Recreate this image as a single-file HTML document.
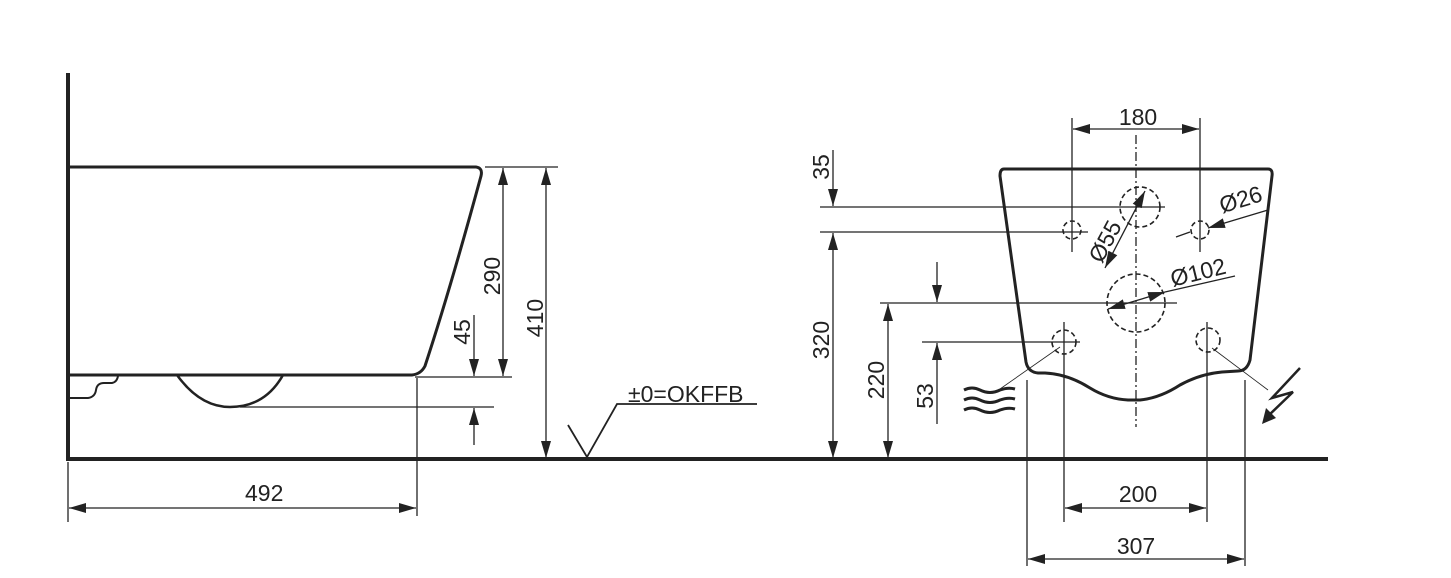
<!DOCTYPE html>
<html><head><meta charset="utf-8"><style>
html,body{margin:0;padding:0;background:#fff;width:1451px;height:578px;overflow:hidden}
svg{display:block}
text{font-family:"Liberation Sans",Arial,sans-serif;font-size:23px;fill:#222}
</style></head><body>
<svg width="1451" height="578" viewBox="0 0 1451 578" xmlns="http://www.w3.org/2000/svg">
<defs>
<marker id="a" viewBox="0 0 17 10" refX="17" refY="5" markerWidth="17" markerHeight="10" markerUnits="userSpaceOnUse" orient="auto-start-reverse"><path d="M0,0 L17,5 L0,10 z" fill="#222"/></marker>
</defs>
<g stroke="#222" fill="none">
<line x1="68" y1="73" x2="68" y2="461" stroke-width="4"/>
<line x1="66" y1="459" x2="1328" y2="459" stroke-width="4"/>
<path d="M68,167 L476,167 Q483,168 481,176 Q450,290 425,366 Q421,374 412,375 L68,375" stroke-width="3"/>
<path d="M177,375 Q200,407 230,407 Q265,407 283,375" stroke-width="2.5"/>
<path d="M70,398 L88,398 Q95,397 96,390 Q97,383 104,383 L112,383 Q117,382 118,376" stroke-width="2"/>
<g stroke-width="1.3">
<line x1="240" y1="407" x2="494" y2="407"/>
<line x1="415" y1="377" x2="512" y2="377"/>
<line x1="485" y1="167" x2="558" y2="167"/>
<line x1="417" y1="378" x2="417" y2="516"/>
<line x1="68" y1="462" x2="68" y2="522"/>
<line x1="503" y1="168" x2="503" y2="376" marker-start="url(#a)" marker-end="url(#a)"/>
<line x1="546" y1="168" x2="546" y2="458" marker-start="url(#a)" marker-end="url(#a)"/>
<line x1="474" y1="315" x2="474" y2="376" marker-end="url(#a)"/>
<line x1="474" y1="445" x2="474" y2="408" marker-end="url(#a)"/>
<line x1="69" y1="508" x2="416" y2="508" marker-start="url(#a)" marker-end="url(#a)"/>
<polyline points="568,425 587,457 617,404 757,404" stroke-width="1.8"/>
</g>
<path d="M1004,169 L1268,169 Q1273,169 1272,176 L1250,360 Q1247,371 1238,371 L1222,372 Q1200,374 1180,385 Q1160,398 1140,400 L1128,400 Q1108,399 1090,388 Q1068,374 1045,373 L1038,373 Q1028,372 1026,362 L1000,176 Q1000,169 1004,169 Z" stroke-width="3"/>
<line x1="1136" y1="135" x2="1136" y2="427" stroke-width="1.3" stroke-dasharray="9,3,2,3"/>
<g stroke-width="1.6" stroke-dasharray="5,3">
<circle cx="1140" cy="207" r="20"/>
<circle cx="1072" cy="230" r="9"/>
<circle cx="1200" cy="230" r="9"/>
<circle cx="1136" cy="303" r="29"/>
<circle cx="1064" cy="342" r="12"/>
<circle cx="1208" cy="340" r="12"/>
</g>
<g stroke-width="1.3">
<line x1="1072" y1="118" x2="1072" y2="252"/>
<line x1="1200" y1="118" x2="1200" y2="252"/>
<line x1="1073" y1="129" x2="1199" y2="129" marker-start="url(#a)" marker-end="url(#a)"/>
<line x1="820" y1="207" x2="1165" y2="207"/>
<line x1="820" y1="232" x2="1088" y2="232"/>
<line x1="880" y1="303" x2="1177" y2="303"/>
<line x1="922" y1="342" x2="1080" y2="342"/>
<line x1="833" y1="150" x2="833" y2="206" marker-end="url(#a)"/>
<line x1="833" y1="233" x2="833" y2="458" marker-start="url(#a)" marker-end="url(#a)"/>
<line x1="888" y1="304" x2="888" y2="458" marker-start="url(#a)" marker-end="url(#a)"/>
<line x1="937" y1="262" x2="937" y2="302" marker-end="url(#a)"/>
<line x1="937" y1="424" x2="937" y2="343" marker-end="url(#a)"/>
<line x1="1064" y1="322" x2="1064" y2="522"/>
<line x1="1207" y1="322" x2="1207" y2="522"/>
<line x1="1027" y1="380" x2="1027" y2="566"/>
<line x1="1245" y1="380" x2="1245" y2="566"/>
<line x1="1065" y1="508" x2="1206" y2="508" marker-start="url(#a)" marker-end="url(#a)"/>
<line x1="1028" y1="559" x2="1244" y2="559" marker-start="url(#a)" marker-end="url(#a)"/>
<line x1="1105" y1="268" x2="1145" y2="191" marker-start="url(#a)" marker-end="url(#a)"/>
<line x1="1176" y1="237" x2="1190" y2="232" />
<line x1="1208" y1="228" x2="1268" y2="210" marker-start="url(#a)"/>
<line x1="1108" y1="309" x2="1165" y2="292" marker-start="url(#a)" marker-end="url(#a)"/>
<line x1="1165" y1="292" x2="1235" y2="276"/>
<line x1="1000" y1="389" x2="1060" y2="347" stroke-width="0.8"/>
<line x1="1212" y1="348" x2="1268" y2="390" stroke-width="0.8"/>
</g>
<g stroke-width="3">
<path d="M964,390 Q972,386 980,390 Q990,395 1000,390 Q1008,387 1015,389"/>
<path d="M964,400 Q972,396 980,400 Q990,405 1000,400 Q1008,397 1015,399"/>
<path d="M964,410 Q972,406 980,410 Q990,415 1000,410 Q1008,407 1015,409"/>
</g>
<polyline points="1300,368 1272,398 1293,392 1268,416" stroke-width="2.5"/>
</g>
<path d="M1262,424 L1266,408 L1276,418 Z" fill="#222"/>
<text x="245" y="501">492</text>
<text x="628" y="402">±0=OKFFB</text>
<text transform="translate(500,276) rotate(-90)" text-anchor="middle">290</text>
<text transform="translate(543,318) rotate(-90)" text-anchor="middle">410</text>
<text transform="translate(470,332) rotate(-90)" text-anchor="middle">45</text>
<text x="1138" y="125" text-anchor="middle">180</text>
<text transform="translate(829,167) rotate(-90)" text-anchor="middle">35</text>
<text transform="translate(829,340) rotate(-90)" text-anchor="middle">320</text>
<text transform="translate(884,380) rotate(-90)" text-anchor="middle">220</text>
<text transform="translate(933,396) rotate(-90)" text-anchor="middle">53</text>
<text x="1138" y="502" text-anchor="middle">200</text>
<text x="1136" y="554" text-anchor="middle">307</text>
<text transform="translate(1112,245) rotate(-62)" text-anchor="middle">Ø55</text>
<text transform="translate(1243,207) rotate(-17)" text-anchor="middle">Ø26</text>
<text transform="translate(1200,280) rotate(-14)" text-anchor="middle">Ø102</text>
</svg>
</body></html>
